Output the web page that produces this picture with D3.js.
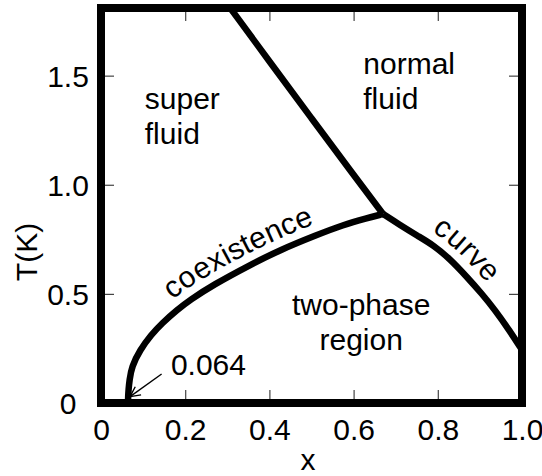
<!DOCTYPE html>
<html><head><meta charset="utf-8">
<script src="https://cdn.jsdelivr.net/npm/d3@7"></script>
<style>
body{margin:0;background:#fff}
svg{display:block}
text{font-family:"Liberation Sans",Arial,Helvetica,sans-serif;fill:#000}
</style>
</head><body>
<svg id="chart" width="542" height="476"></svg>
<script>
// ---- data ----
const xTicks = [0, 0.2, 0.4, 0.6, 0.8, 1.0];
const xTickLabels = ["0", "0.2", "0.4", "0.6", "0.8", "1.0"];
const yTicks = [0, 0.5, 1.0, 1.5];
const yTickLabels = ["0", "0.5", "1.0", "1.5"];

// coexistence curve, left branch (from x = 0.064 at T = 0 up to the tricritical point)
const coexX = [0.064, 0.0645, 0.0653, 0.0677, 0.0729, 0.0926, 0.1188, 0.1449, 0.1805, 0.2114, 0.266, 0.3539, 0.4252, 0.5124, 0.5748, 0.6311, 0.670];
const coexT = [0.000, 0.030, 0.0596, 0.1054, 0.1664, 0.2429, 0.3116, 0.3653, 0.4262, 0.4720, 0.5408, 0.6325, 0.7012, 0.7699, 0.8158, 0.8465, 0.866];
// coexistence curve, right branch
const rightX = [0.670, 0.710, 0.753, 0.789, 0.829, 0.869, 0.905, 0.936, 0.971, 1.000];
const rightT = [0.866, 0.816, 0.765, 0.724, 0.660, 0.578, 0.500, 0.426, 0.330, 0.243];
// lambda line
const lambdaX = [0.307, 0.400, 0.500, 0.600, 0.670];
const lambdaT = [1.810, 1.565, 1.305, 1.045, 0.866];

const xTitle = "x";
const yTitle = "T(K)";
const regionNames = [["super", "fluid"], ["normal", "fluid"], ["two-phase", "region"]];
const regionAt = [[0.104, 1.346, "start"], [0.623, 1.508, "start"], [0.618, 0.403, "middle"]];
const pointLabel = "0.064";
const pointLabelAt = [0.166, 0.128];
const arrowFrom = [0.144, 0.133];
const arrowTo = [0.069, 0.029];

// ---- layout ----
const svg = d3.select("#chart");
const x = d3.scaleLinear().domain([0, 1]).range([101, 522]);
const y = d3.scaleLinear().domain([0, 1.81]).range([403, 8]);
const FS = 30;

const zip = (a, b) => a.map((v, i) => [v, b[i]]);
const line = d3.line().x(d => x(d[0])).y(d => y(d[1])).curve(d3.curveBasis);

// curves
const g = svg.append("g");
g.append("path").attr("id", "coexPath").attr("d", line(zip(coexX, coexT)))
  .attr("fill", "none").attr("stroke", "#000").attr("stroke-width", 6.5);
g.append("path").attr("id", "rightPath").attr("d", line(zip(rightX, rightT)))
  .attr("fill", "none").attr("stroke", "#000").attr("stroke-width", 6.5);
g.append("path").attr("d", line(zip(lambdaX, lambdaT)))
  .attr("fill", "none").attr("stroke", "#000").attr("stroke-width", 6.5);

// axes (inward ticks)
const tickStyle = sel => {
  sel.select(".domain").remove();
  sel.selectAll(".tick line").attr("stroke", "#444").attr("stroke-width", 1.2);
  sel.selectAll(".tick text").attr("font-size", FS).attr("fill", "#000")
     .attr("font-family", '"Liberation Sans",Arial,sans-serif');
};
svg.append("g").attr("transform", `translate(0,${y(0)})`)
  .call(d3.axisBottom(x).tickValues(xTicks).tickFormat((d, i) => xTickLabels[i]).tickSize(-13).tickPadding(15.5))
  .call(tickStyle);
svg.append("g").attr("transform", `translate(0,${y(1.81)})`)
  .call(d3.axisTop(x).tickValues(xTicks).tickFormat("").tickSize(-13))
  .call(tickStyle);
const ly = svg.append("g").attr("transform", `translate(${x(0)},0)`)
  .call(d3.axisLeft(y).tickValues(yTicks).tickFormat((d, i) => yTickLabels[i]).tickSize(-13))
  .call(tickStyle);
ly.selectAll(".tick text").attr("text-anchor", "middle").attr("x", 68 - x(0)).attr("dy", "0.36em");
svg.append("g").attr("transform", `translate(${x(1)},0)`)
  .call(d3.axisRight(y).tickValues(yTicks).tickFormat("").tickSize(-13))
  .call(tickStyle);

// frame
svg.append("rect").attr("x", x(0)).attr("y", y(1.81))
  .attr("width", x(1) - x(0)).attr("height", y(0) - y(1.81))
  .attr("fill", "none").attr("stroke", "#000").attr("stroke-width", 8);

// axis titles
svg.append("text").attr("x", 308).attr("y", 470).attr("text-anchor", "middle")
  .attr("font-size", FS).text(xTitle);
svg.append("text").attr("transform", "translate(36.5,252) rotate(-90)")
  .attr("text-anchor", "middle").attr("font-size", FS).text(yTitle);

// region labels
regionNames.forEach((lines, i) => {
  const [px, py, anchor] = regionAt[i];
  const t = svg.append("text").attr("x", x(px)).attr("y", y(py))
    .attr("text-anchor", anchor).attr("font-size", FS);
  lines.forEach((s, j) => {
    t.append("tspan").attr("x", x(px)).attr("dy", j === 0 ? 0 : 35).text(s);
  });
});

// labels along curves
svg.append("text").attr("font-size", FS)
  .append("textPath").attr("href", "#coexPath").attr("startOffset", 112)
  .append("tspan").attr("dy", -11).text("coexistence");
svg.append("text").attr("font-size", FS)
  .append("textPath").attr("href", "#rightPath").attr("startOffset", 50)
  .append("tspan").attr("dy", -11).text("curve");

// 0.064 annotation
svg.append("defs").append("marker").attr("id", "arr")
  .attr("viewBox", "0 0 12 12").attr("refX", 11).attr("refY", 6)
  .attr("markerWidth", 12).attr("markerHeight", 12).attr("markerUnits", "userSpaceOnUse")
  .attr("orient", "auto")
  .append("path").attr("d", "M1,1 L11,6 L1,11").attr("fill", "none")
  .attr("stroke", "#000").attr("stroke-width", 1.4);
svg.append("line").attr("x1", x(arrowFrom[0])).attr("y1", y(arrowFrom[1]))
  .attr("x2", x(arrowTo[0])).attr("y2", y(arrowTo[1]))
  .attr("stroke", "#000").attr("stroke-width", 1.4).attr("marker-end", "url(#arr)");
svg.append("text").attr("x", x(pointLabelAt[0])).attr("y", y(pointLabelAt[1]))
  .attr("font-size", FS).text(pointLabel);
</script>
</body></html>
